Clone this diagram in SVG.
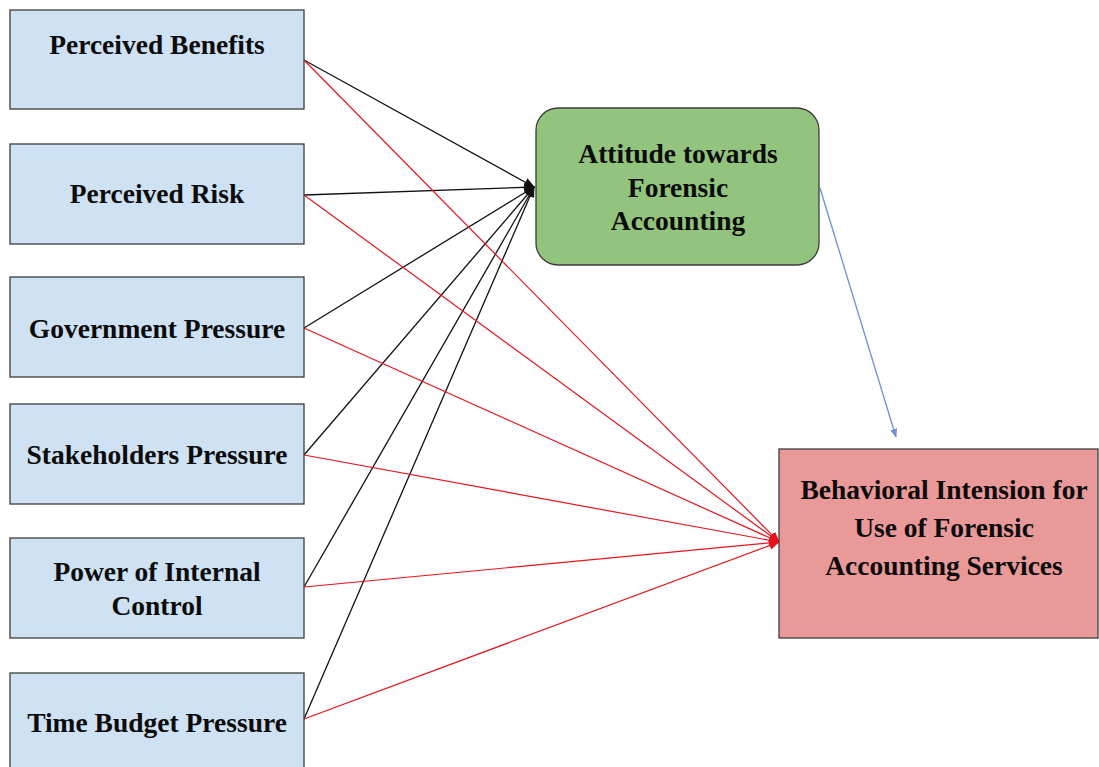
<svg xmlns="http://www.w3.org/2000/svg" width="1099" height="767" viewBox="0 0 1099 767">
  <style>
    .box { stroke: #3c3c3c; stroke-width: 1.3; }
    .src { fill: #cfe2f3; }
    .att { fill: #93c47d; }
    .beh { fill: #ea9999; }
    .lbl { font-family: "Liberation Serif", "Times New Roman", serif; font-weight: bold; font-size: 27.5px; fill: #0c0c0c; text-anchor: middle; }
    .blk { stroke: #111; stroke-width: 1.3; fill: none; marker-end: url(#ahBlack); }
    .red { stroke: #e8141b; stroke-width: 1.2; fill: none; marker-end: url(#ahRed); }
    .blu { stroke: #6d8fd6; stroke-width: 1.3; fill: none; marker-end: url(#ahBlue); }
  </style>
  <defs>
    <marker id="ahBlack" viewBox="0 0 10 10" refX="9" refY="5" markerWidth="11" markerHeight="11" markerUnits="userSpaceOnUse" orient="auto">
      <path d="M0,1 L10,5 L0,9 Z" fill="#111"/>
    </marker>
    <marker id="ahRed" viewBox="0 0 10 10" refX="9" refY="5" markerWidth="11" markerHeight="11" markerUnits="userSpaceOnUse" orient="auto">
      <path d="M0,1 L10,5 L0,9 Z" fill="#e8141b"/>
    </marker>
    <marker id="ahBlue" viewBox="0 0 10 10" refX="9" refY="5" markerWidth="9" markerHeight="9" markerUnits="userSpaceOnUse" orient="auto">
      <path d="M0,1 L10,5 L0,9 Z" fill="#6d8fd6"/>
    </marker>
  </defs>

  <rect width="1099" height="767" fill="#ffffff"/>

  <!-- connectors -->
  <g id="connectors">
    <!-- predictors to attitude -->
    <line class="blk" x1="304" y1="60" x2="534" y2="187"/>
    <line class="blk" x1="304" y1="195" x2="534" y2="187"/>
    <line class="blk" x1="304" y1="328" x2="534" y2="187"/>
    <line class="blk" x1="304" y1="455" x2="534" y2="187"/>
    <line class="blk" x1="304" y1="587" x2="534" y2="187"/>
    <line class="blk" x1="304" y1="719" x2="534" y2="187"/>
    <!-- predictors to behavioral intension -->
    <line class="red" x1="304" y1="60" x2="779" y2="542"/>
    <line class="red" x1="304" y1="195" x2="779" y2="542"/>
    <line class="red" x1="304" y1="328" x2="779" y2="542"/>
    <line class="red" x1="304" y1="455" x2="779" y2="542"/>
    <line class="red" x1="304" y1="587" x2="779" y2="542"/>
    <line class="red" x1="304" y1="719" x2="779" y2="542"/>
    <!-- attitude to behavioral intension -->
    <line class="blu" x1="820" y1="188" x2="896" y2="437"/>
  </g>

  <g id="perceived-benefits">
    <rect class="box src" x="10" y="10" width="294" height="99"/>
    <text class="lbl" x="157" y="54">Perceived Benefits</text>
  </g>
  <g id="perceived-risk">
    <rect class="box src" x="10" y="144" width="294" height="100"/>
    <text class="lbl" x="157" y="203">Perceived Risk</text>
  </g>
  <g id="government-pressure">
    <rect class="box src" x="10" y="277" width="294" height="100"/>
    <text class="lbl" x="157" y="338">Government Pressure</text>
  </g>
  <g id="stakeholders-pressure">
    <rect class="box src" x="10" y="404" width="294" height="100"/>
    <text class="lbl" x="157" y="464">Stakeholders Pressure</text>
  </g>
  <g id="power-of-internal-control">
    <rect class="box src" x="10" y="538" width="294" height="100"/>
    <text class="lbl" x="157" y="581">Power of Internal</text>
    <text class="lbl" x="157" y="615">Control</text>
  </g>
  <g id="time-budget-pressure">
    <rect class="box src" x="10" y="673" width="294" height="110"/>
    <text class="lbl" x="157" y="732">Time Budget Pressure</text>
  </g>

  <g id="attitude">
    <rect class="box att" x="536" y="108" width="283" height="157" rx="22" ry="22"/>
    <text class="lbl" x="678" y="163">Attitude towards</text>
    <text class="lbl" x="678" y="197">Forensic</text>
    <text class="lbl" x="678" y="230">Accounting</text>
  </g>

  <g id="behavioral-intension">
    <rect class="box beh" x="779" y="449" width="319" height="189"/>
    <text class="lbl" x="944" y="499">Behavioral Intension for</text>
    <text class="lbl" x="944" y="537">Use of Forensic</text>
    <text class="lbl" x="944" y="575">Accounting Services</text>
  </g>
</svg>
